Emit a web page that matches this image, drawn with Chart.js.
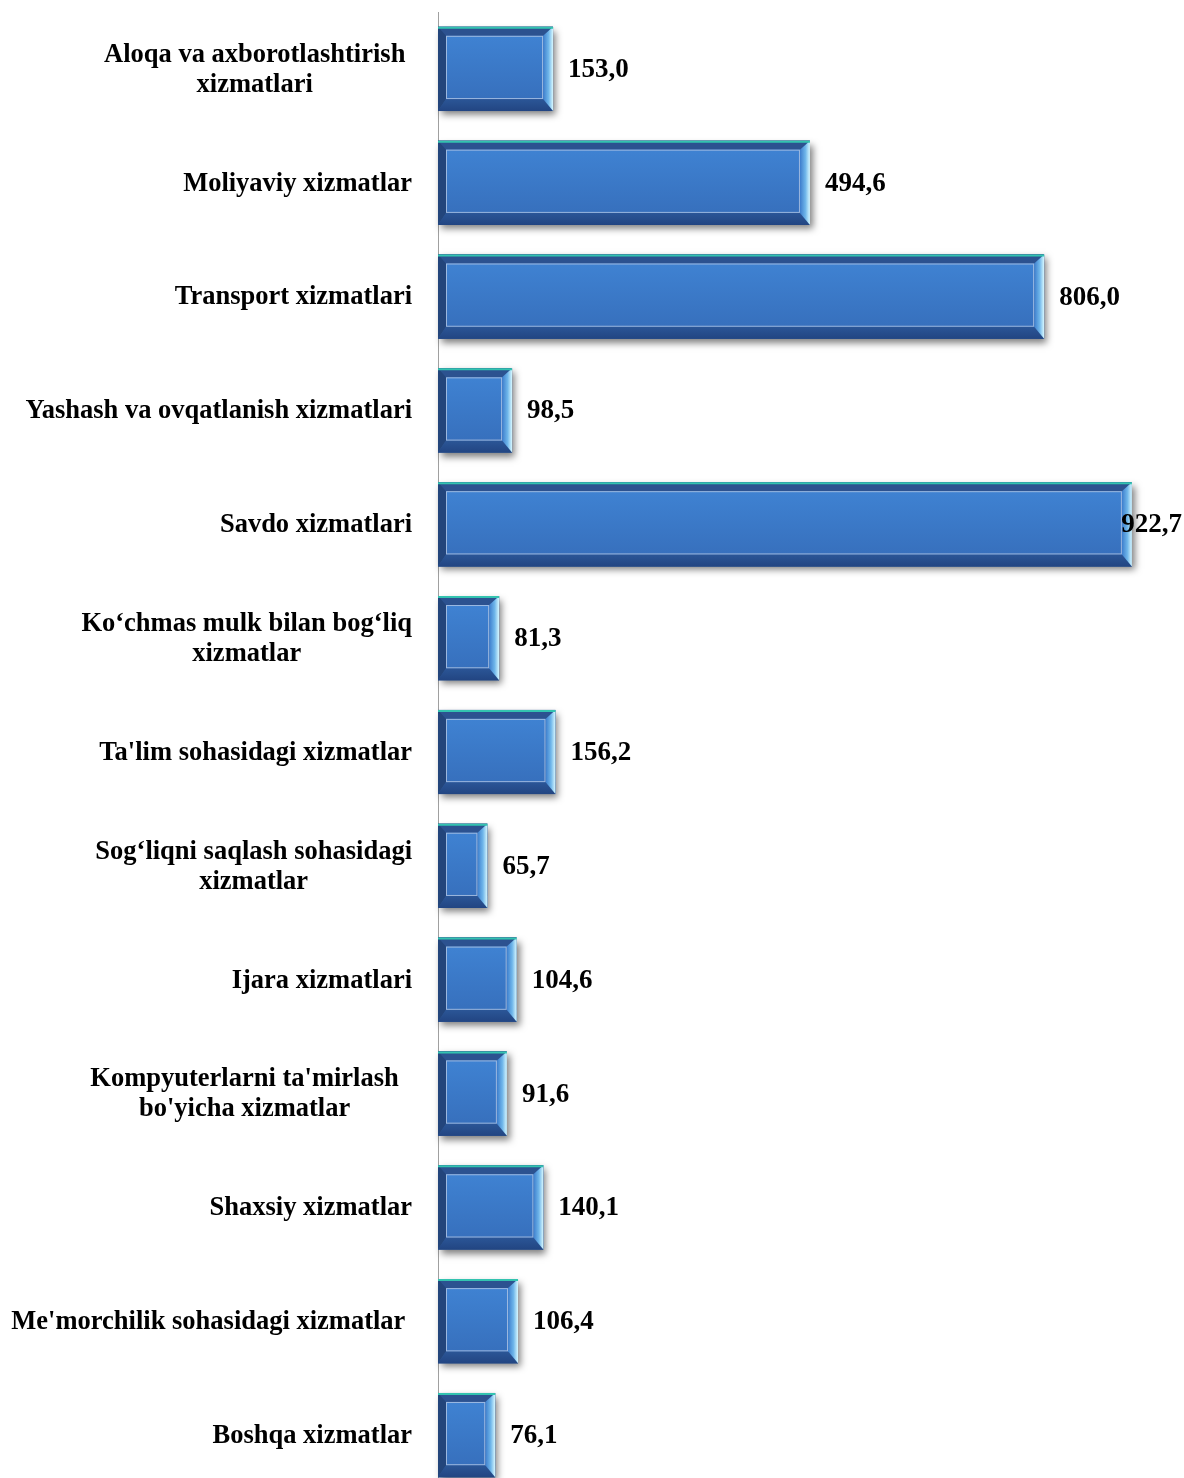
<!DOCTYPE html>
<html>
<head>
<meta charset="utf-8">
<script src="https://cdn.jsdelivr.net/npm/chart.js@4"></script>
<style>
  html, body { margin: 0; padding: 0; background: #fff; overflow: hidden; }
  canvas { display: block; }
</style>
</head>
<body>
<canvas id="chart" width="1184" height="1492"></canvas>
<script>
// trailing spaces kept as in the source text boxes
const categories = [
  ["Aloqa va axborotlashtirish ", "xizmatlari"],
  ["Moliyaviy xizmatlar"],
  ["Transport xizmatlari"],
  ["Yashash va ovqatlanish xizmatlari"],
  ["Savdo xizmatlari"],
  ["Ko\u2018chmas mulk bilan bog\u2018liq", "xizmatlar"],
  ["Ta'lim sohasidagi xizmatlar"],
  ["Sog\u2018liqni saqlash sohasidagi", "xizmatlar"],
  ["Ijara xizmatlari"],
  ["Kompyuterlarni ta'mirlash  ", "bo'yicha xizmatlar"],
  ["Shaxsiy xizmatlar"],
  ["Me'morchilik sohasidagi xizmatlar "],
  ["Boshqa xizmatlar"]
];
const values = [153.0, 494.6, 806.0, 98.5, 922.7, 81.3, 156.2, 65.7, 104.6, 91.6, 140.1, 106.4, 76.1];

const serif = "'Liberation Serif', 'Times New Roman', serif";

/* ================= BEVEL BARS ================= */

function barBox(el){
  const p = el.getProps(["x", "y", "base", "height"], true);
  return { l: p.base, r: p.x, t: p.y - p.height / 2, b: p.y + p.height / 2 };
}

function quad(ctx, pts, fill){
  ctx.beginPath();
  ctx.moveTo(pts[0][0], pts[0][1]);
  for (let i = 1; i < pts.length; i++) ctx.lineTo(pts[i][0], pts[i][1]);
  ctx.closePath();
  ctx.fillStyle = fill;
  ctx.fill();
}

const bevelPlugin = {
  id: "bevel",
  beforeDatasetsDraw(chart){
    const ctx = chart.ctx;
    chart.getDatasetMeta(0).data.forEach(el => {
      const b = barBox(el);
      ctx.save();
      ctx.shadowColor = "rgba(0,0,0,0.5)";
      ctx.shadowBlur = 7;
      ctx.shadowOffsetX = 3;
      ctx.shadowOffsetY = 4;
      ctx.fillStyle = "#2d5590";
      ctx.fillRect(b.l, b.t, b.r - b.l, b.b - b.t);
      ctx.restore();
    });
  },
  afterDatasetsDraw(chart){
    const ctx = chart.ctx;
    chart.getDatasetMeta(0).data.forEach(el => {
      const {l, r, t, b} = barBox(el);
      const bl = 8, bt = 9, br = 10, bb = 12;
      ctx.save();
      // top
      quad(ctx, [[l, t], [r, t], [r - br, t + bt], [l + bl, t + bt]], "#2c5290");
      // left
      quad(ctx, [[l, t], [l + bl, t + bt], [l + bl, b - bb], [l, b]], "#23457b");
      // bottom
      let g = ctx.createLinearGradient(0, b - bb, 0, b);
      g.addColorStop(0, "#2b5697");
      g.addColorStop(1, "#224582");
      quad(ctx, [[l, b], [l + bl, b - bb], [r - br, b - bb], [r, b]], g);
      // right
      g = ctx.createLinearGradient(r - br, 0, r, 0);
      g.addColorStop(0, "#3c7ccc");
      g.addColorStop(0.55, "#6fb6ea");
      g.addColorStop(1, "#d8f8ff");
      quad(ctx, [[r, t], [r, b], [r - br, b - bb], [r - br, t + bt]], g);
      // face
      g = ctx.createLinearGradient(0, t + bt, 0, b - bb);
      g.addColorStop(0, "#3f82d2");
      g.addColorStop(1, "#3770bd");
      ctx.fillStyle = g;
      ctx.fillRect(l + bl, t + bt, r - br - l - bl, b - bb - t - bt);
      ctx.strokeStyle = "rgba(180,200,230,0.8)";
      ctx.lineWidth = 1;
      ctx.strokeRect(l + bl + 0.5, t + bt + 0.5, r - br - l - bl - 1, b - bb - t - bt - 1);
      // teal top rim
      ctx.strokeStyle = "#33c3b0";
      ctx.lineWidth = 2;
      ctx.beginPath();
      ctx.moveTo(l, t + 1);
      ctx.lineTo(r, t + 1);
      ctx.stroke();
      ctx.restore();
    });
  },
  afterDraw(chart){
    const ctx = chart.ctx;
    const yScale = chart.scales.y;
    ctx.save();
    ctx.fillStyle = "#000";
    ctx.textBaseline = "middle";
    // category labels: lines centred on each other, block right-aligned
    ctx.font = "bold 26.5px " + serif;
    ctx.textAlign = "center";
    const lineH = 30, rightEdge = 412;
    categories.forEach((lines, i) => {
      const cy = yScale.getPixelForTick(i) + 1;
      const pad = Math.max(...lines.map(s => ctx.measureText(s).width - ctx.measureText(s.trimEnd()).width));
      const w = Math.max(...lines.map(s => ctx.measureText(s.trim()).width));
      const cx = rightEdge - pad - w / 2;
      lines.forEach((s, j) => {
        ctx.fillText(s.trim(), cx, cy + (j - (lines.length - 1) / 2) * lineH);
      });
    });
    // value labels
    ctx.font = "bold 27px " + serif;
    ctx.textAlign = "left";
    chart.getDatasetMeta(0).data.forEach((el, i) => {
      const {r, t, b} = barBox(el);
      const txt = values[i].toFixed(1).replace(".", ",");
      const w = ctx.measureText(txt).width;
      const x = Math.min(r + 15, chart.width - 2 - w);
      ctx.fillText(txt, x, (t + b) / 2 + 1);
    });
    ctx.restore();
  }
};

/* ================= CHART ================= */

new Chart(document.getElementById("chart"), {
  type: "bar",
  data: {
    labels: categories,
    datasets: [{
      data: values,
      backgroundColor: "#2d5590",
      borderWidth: 0,
      barPercentage: 0.74,
      categoryPercentage: 1
    }]
  },
  options: {
    indexAxis: "y",
    responsive: false,
    animation: false,
    devicePixelRatio: 1,
    layout: { padding: { left: 430, top: 12, right: 0, bottom: 0 } },
    plugins: { legend: { display: false }, tooltip: { enabled: false } },
    scales: {
      x: { display: false, min: 0, max: 992 },
      y: {
        ticks: { display: false },
        grid: { display: false },
        border: { display: true, color: "#a0a0a0", width: 1 }
      }
    }
  },
  plugins: [bevelPlugin]
});
</script>
</body>
</html>
